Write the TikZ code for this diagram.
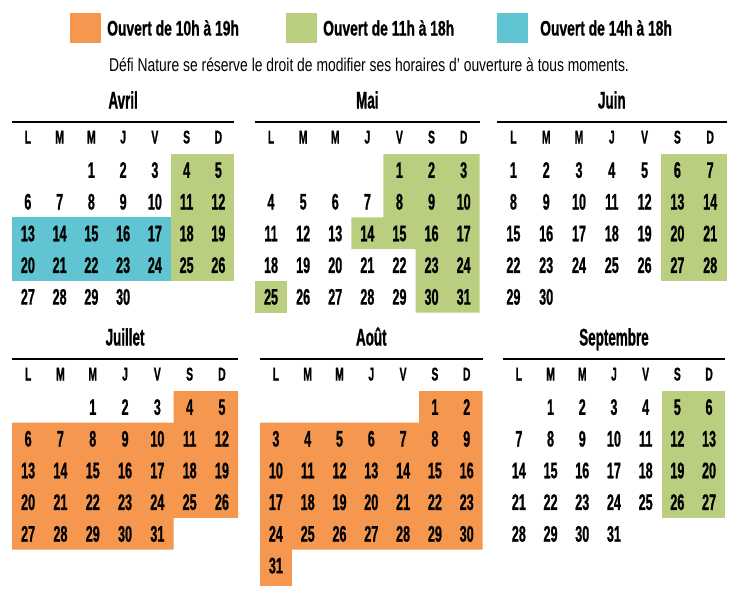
\documentclass[tikz,border=0pt]{standalone}
\usepackage{fontspec}
\setmainfont{Liberation Sans}
\newfontfamily\condb{Liberation Sans}[FakeStretch=0.56, BoldFeatures={FakeBold=0.8}]
\newfontfamily\condleg{Liberation Sans}[FakeStretch=0.66, BoldFeatures={FakeBold=0.8}]
\newfontfamily\condl{Liberation Sans}[FakeStretch=0.75]
\definecolor{corange}{HTML}{F5974F}
\definecolor{cgreen}{HTML}{B9CE7F}
\definecolor{cblue}{HTML}{60C4D3}
\tikzset{
  daynum/.style={inner sep=0pt, text height=16pt, text depth=0pt, font=\condb\bfseries\fontsize{22.5}{24}\selectfont},
  dayhead/.style={inner sep=0pt, text height=13pt, text depth=0pt, font=\condb\bfseries\fontsize{18.5}{20}\selectfont},
  mtitle/.style={inner sep=0pt, text height=17pt, text depth=0pt, font=\condb\bfseries\fontsize{24}{25}\selectfont},
  legtext/.style={inner sep=0pt, anchor=west, text height=15pt, text depth=0pt, font=\condleg\bfseries\fontsize{21}{23}\selectfont},
  subtext/.style={inner sep=0pt, text height=13.3pt, text depth=0pt, font=\condl\fontsize{18.5}{20}\selectfont},
  rule/.style={line width=2.5pt},
  legbox/.style={inner sep=0pt, minimum width=31pt, minimum height=30.5pt},
}
\newcommand\calmonth[7]{%
  \node[mtitle] (#1-t) at ({#3+3.5*#5},{#4-22}) {#2};
  \coordinate (#1-a) at (#3,#4);
  \coordinate (#1-b) at ({#3+7*#5},#4);
  \draw[rule] (#1-a) -- (#1-b);
  \foreach \L [count=\i from 0] in {L,M,M,J,V,S,D}
    \node[dayhead] (#1-h\i) at ({#3+(\i+0.5)*#5},{#4+15}) {\L};
  \foreach \d in {1,...,#7}{
    \pgfmathtruncatemacro\idx{#6+\d-1}
    \pgfmathtruncatemacro\col{mod(\idx,7)}
    \pgfmathtruncatemacro\row{div(\idx,7)}
    \node[daynum] (#1-\d) at ({#3+(\col+0.5)*#5},{#4+32+(\row+0.5)*31.7}) {\d};
  }%
}
\begin{document}
\begin{tikzpicture}[x=1pt,y=-1pt]
\useasboundingbox (0,0) rectangle (738,600);
% legend
\node[legbox, fill=corange] (lo) at (85,28) {};
\node[legtext] (lot) at (107,28) {Ouvert de 10h à 19h};
\node[legbox, fill=cgreen] (lg) at (301,28) {};
\node[legtext] (lgt) at (323,28) {Ouvert de 11h à 18h};
\node[legbox, fill=cblue] (lb) at (512,28) {};
\node[legtext] (lbt) at (540,28) {Ouvert de 14h à 18h};
\node[subtext] (sub) at (369,65) {Défi Nature se réserve le droit de modifier ses horaires d’ ouverture à tous moments.};
% colored regions
\begin{scope}[shift={(12,154)}, x=31.75pt, y=-31.7pt]
  \fill[cgreen] (5,0) rectangle (7,4);
  \fill[cblue] (0,2) rectangle (5,4);
\end{scope}
\begin{scope}[shift={(255,154)}, x=32.1pt, y=-31.7pt]
  \fill[cgreen] (4,0) -- (7,0) -- (7,5) -- (5,5) -- (5,3) -- (3,3) -- (3,2) -- (4,2) -- cycle;
  \fill[cgreen] (0,4) rectangle (1,5);
\end{scope}
\begin{scope}[shift={(497,154)}, x=32.8pt, y=-31.7pt]
  \fill[cgreen] (5,0) rectangle (7,4);
\end{scope}
\begin{scope}[shift={(12,391)}, x=32.3pt, y=-31.7pt]
  \fill[corange] (5,0) -- (7,0) -- (7,4) -- (5,4) -- (5,5) -- (0,5) -- (0,1) -- (5,1) -- cycle;
\end{scope}
\begin{scope}[shift={(260,391)}, x=31.8pt, y=-31.7pt]
  \fill[corange] (5,0) -- (7,0) -- (7,5) -- (1,5) -- (1,6.15) -- (0,6.15) -- (0,1) -- (5,1) -- cycle;
\end{scope}
\begin{scope}[shift={(503,391)}, x=31.7pt, y=-31.7pt]
  \fill[cgreen] (5,0) rectangle (7,4);
\end{scope}
% months
\calmonth{avr}{Avril}{12}{122}{31.75}{2}{30}
\calmonth{mai}{Mai}{255}{122}{32.1}{4}{31}
\calmonth{jun}{Juin}{497}{122}{32.8}{0}{30}
\calmonth{jul}{Juillet}{12}{359}{32.3}{2}{31}
\calmonth{aou}{Août}{260}{359}{31.8}{5}{31}
\calmonth{sep}{Septembre}{503}{359}{31.7}{1}{31}
\end{tikzpicture}
\end{document}
